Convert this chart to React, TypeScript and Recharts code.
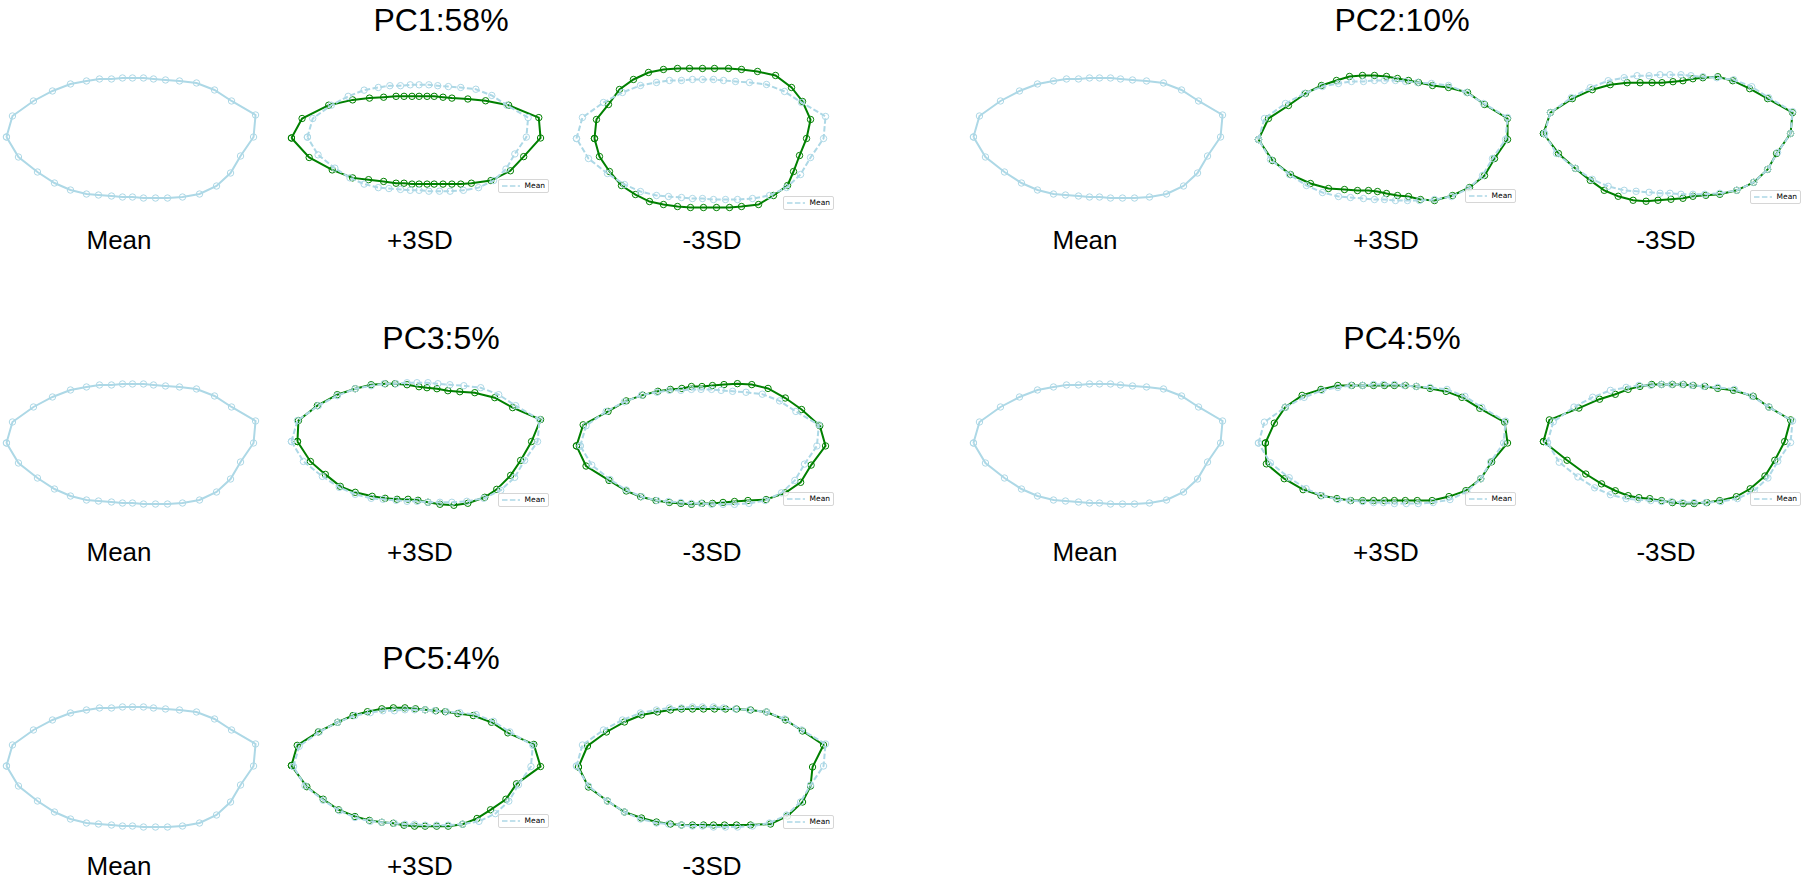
import React from 'react';
import { ScatterChart, Scatter, XAxis, YAxis } from 'recharts';

type Pt = [number, number];

// outline landmarks (x, y), same units for every shape
const MEAN_SHAPE: Pt[] = [
  [-124, 1], [-118, 22], [-97, 37], [-78, 47], [-60, 54], [-44, 57], [-31, 59], [-19, 59], [-8, 60], [2, 60],
  [13, 60], [23, 59], [35, 58], [49, 57], [66, 55], [84, 48], [101, 37], [125, 23], [123, 1], [110, -18],
  [100, -35], [86, -48], [69, -56], [52, -59], [37, -60], [25, -60], [13, -60], [2, -59], [-8, -59], [-19, -58],
  [-32, -57], [-44, -56], [-60, -52], [-76, -45], [-93, -34], [-112, -19],
];

const PC1_PLUS: Pt[] = [
  [-142, 0], [-130, 22], [-100, 37], [-73, 43], [-54, 45], [-38, 46], [-24, 47], [-15, 47], [-6, 47], [2, 47],
  [11, 47], [19, 47], [29, 46], [39, 45], [57, 44], [77, 42], [103, 37], [137, 23], [139, 0], [120, -21],
  [105, -37], [83, -48], [61, -51], [49, -52], [39, -52], [29, -52], [19, -52], [11, -52], [2, -52], [-6, -52],
  [-15, -51], [-24, -51], [-38, -49], [-55, -47], [-73, -45], [-96, -36], [-122, -22],
];
const PC1_MINUS: Pt[] = [
  [-106, 1], [-104, 20], [-92, 35], [-81, 50], [-67, 60], [-52, 67], [-37, 70], [-23, 71], [-11, 71], [2, 71],
  [14, 71], [28, 71], [41, 70], [57, 68], [75, 64], [91, 52], [102, 38], [110, 20], [106, 1], [99, -16],
  [93, -32], [87, -46], [73, -56], [58, -65], [41, -67], [29, -68], [16, -68], [3, -68], [-10, -68], [-23, -67],
  [-37, -65], [-51, -62], [-65, -55], [-79, -46], [-91, -32], [-101, -17],
];
const PC2_PLUS: Pt[] = [
  [-124, 1], [-114, 22], [-94, 35], [-77, 47], [-61, 55], [-46, 60], [-33, 64], [-20, 65], [-8, 65], [4, 64],
  [15, 62], [26, 60], [36, 58], [50, 55], [66, 53], [85, 48], [102, 36], [125, 22], [125, 1], [112, -18],
  [102, -35], [87, -47], [70, -55], [52, -60], [38, -59], [26, -56], [15, -55], [4, -53], [-5, -51], [-14, -50],
  [-25, -50], [-38, -49], [-54, -48], [-72, -43], [-92, -34], [-110, -20],
];
const PC2_MINUS: Pt[] = [
  [-125, 1], [-118, 22], [-96, 36], [-76, 45], [-58, 50], [-41, 52], [-28, 52], [-16, 52], [-6, 52], [5, 53],
  [15, 54], [25, 56], [35, 57], [50, 58], [65, 54], [82, 46], [100, 36], [125, 22], [123, 1], [109, -19],
  [100, -35], [86, -48], [69, -56], [52, -60], [38, -61], [25, -62], [15, -64], [3, -65], [-10, -66], [-22, -67],
  [-35, -66], [-50, -62], [-64, -56], [-78, -46], [-93, -34], [-110, -19],
];
const PC3_PLUS: Pt[] = [
  [-118, 1], [-117, 22], [-98, 37], [-78, 48], [-60, 54], [-44, 58], [-30, 59], [-20, 59], [-8, 58], [4, 56],
  [12, 55], [22, 54], [33, 52], [45, 51], [60, 50], [80, 45], [98, 35], [126, 23], [117, 1], [106, -18],
  [96, -33], [82, -47], [70, -55], [53, -61], [39, -63], [25, -62], [13, -60], [3, -58], [-7, -57], [-18, -57],
  [-30, -56], [-43, -54], [-60, -50], [-75, -44], [-90, -32], [-105, -19],
];
const PC3_MINUS: Pt[] = [
  [-128, 1], [-121, 23], [-95, 37], [-76, 48], [-59, 54], [-43, 58], [-30, 60], [-18, 61], [-8, 63], [3, 63],
  [14, 64], [26, 65], [40, 66], [55, 65], [72, 61], [90, 51], [107, 39], [126, 22], [132, 1], [117, -19],
  [106, -37], [90, -48], [70, -55], [51, -56], [37, -57], [25, -58], [14, -59], [3, -59], [-8, -60], [-19, -59],
  [-31, -58], [-45, -56], [-61, -52], [-76, -46], [-94, -35], [-118, -20],
];
const PC4_PLUS: Pt[] = [
  [-117, 1], [-108, 21], [-97, 37], [-80, 49], [-61, 55], [-44, 59], [-30, 59], [-19, 59], [-8, 59], [3, 59],
  [13, 59], [24, 59], [35, 58], [49, 56], [65, 53], [81, 47], [99, 36], [124, 22], [127, 1], [111, -18],
  [100, -35], [85, -47], [68, -53], [51, -57], [36, -57], [24, -57], [13, -57], [3, -57], [-8, -57], [-19, -57],
  [-31, -57], [-45, -55], [-61, -52], [-79, -46], [-98, -35], [-116, -20],
];
const PC4_MINUS: Pt[] = [
  [-128, 2], [-122, 24], [-92, 36], [-71, 45], [-55, 50], [-42, 55], [-30, 58], [-18, 60], [-8, 60], [3, 60],
  [14, 60], [24, 59], [36, 58], [49, 56], [65, 54], [85, 48], [101, 37], [123, 24], [117, 2], [107, -17],
  [97, -33], [82, -46], [68, -54], [51, -58], [38, -60], [25, -61], [14, -61], [3, -60], [-8, -58], [-20, -56],
  [-31, -55], [-42, -53], [-55, -48], [-69, -41], [-85, -31], [-104, -17],
];
const PC5_PLUS: Pt[] = [
  [-126, 2], [-120, 23], [-98, 37], [-78, 47], [-62, 54], [-47, 58], [-32, 61], [-20, 62], [-8, 62], [3, 61],
  [13, 60], [24, 59], [34, 58], [47, 56], [63, 54], [82, 47], [99, 36], [126, 24], [133, 1], [108, -17],
  [97, -33], [81, -44], [67, -53], [52, -59], [37, -61], [25, -61], [13, -61], [2, -61], [-9, -60], [-20, -58],
  [-32, -57], [-45, -55], [-60, -51], [-77, -44], [-93, -33], [-110, -20],
];
const PC5_MINUS: Pt[] = [
  [-122, 0], [-113, 21], [-94, 35], [-76, 45], [-59, 52], [-43, 55], [-30, 57], [-19, 58], [-8, 58], [3, 58],
  [14, 58], [25, 58], [36, 58], [50, 57], [66, 55], [85, 47], [102, 36], [123, 22], [112, 0], [110, -19],
  [102, -35], [87, -49], [70, -57], [50, -58], [36, -58], [24, -58], [13, -58], [3, -58], [-8, -58], [-19, -58],
  [-30, -57], [-44, -55], [-59, -51], [-76, -45], [-93, -34], [-112, -20],
];

const PC_TITLES = ['PC1:58%', 'PC2:10%', 'PC3:5%', 'PC4:5%', 'PC5:4%'];
const COLUMN_LABELS = ['Mean', '+3SD', '-3SD'];
const PLUS_SHAPES = [PC1_PLUS, PC2_PLUS, PC3_PLUS, PC4_PLUS, PC5_PLUS];
const MINUS_SHAPES = [PC1_MINUS, PC2_MINUS, PC3_MINUS, PC4_MINUS, PC5_MINUS];

const FONT = '"Liberation Sans", Arial, sans-serif';
const MEAN_COLOR = '#add8e6';
const SD_COLOR = '#008000';
const DASH = '5.5 2.4';

// one subplot box, equal aspect
const PW = 274;
const PH = 200;

// page layout of the five blocks
const LEFT = { cols: [131, 416, 701], labelX: [119, 420, 712], titleX: 441 };
const RIGHT = { cols: [1098, 1383, 1668], labelX: [1085, 1386, 1666], titleX: 1402 };
const BLOCKS = [
  { g: LEFT, cy: 138, titleY: 20, labelY: 240 },
  { g: RIGHT, cy: 138, titleY: 20, labelY: 240 },
  { g: LEFT, cy: 444, titleY: 338, labelY: 552 },
  { g: RIGHT, cy: 444, titleY: 338, labelY: 552 },
  { g: LEFT, cy: 767, titleY: 658, labelY: 866 },
];

interface Layer {
  pts: Pt[];
  color: string;
  dashed?: boolean;
}

const MeanLegend = () => (
  <div
    style={{
      display: 'flex',
      alignItems: 'center',
      border: '1px solid #d6d6d6',
      borderRadius: 2,
      background: 'rgba(255,255,255,0.85)',
      padding: '1px 3px',
      fontFamily: '"DejaVu Sans", sans-serif',
      fontSize: 7.5,
      lineHeight: '10px',
      color: '#000',
      whiteSpace: 'nowrap',
    }}
  >
    <svg width={18} height={6}>
      <line x1={0} y1={3} x2={18} y2={3} stroke={MEAN_COLOR} strokeWidth={1.5} strokeDasharray={DASH} />
    </svg>
    <span style={{ marginLeft: 5 }}>Mean</span>
  </div>
);

const Panel = ({ layers, cx, cy, legend }: { layers: Layer[]; cx: number; cy: number; legend?: boolean }) => {
  const all = layers.flatMap((l) => l.pts);
  const xs = all.map((p) => p[0]);
  const ys = all.map((p) => p[1]);
  const x0 = Math.min(...xs);
  const x1 = Math.max(...xs);
  const y0 = Math.min(...ys);
  const y1 = Math.max(...ys);
  const bw = (x1 - x0) * 1.1;
  const bh = (y1 - y0) * 1.1;
  const s = Math.min(PW / bw, PH / bh);
  const mx = (x0 + x1) / 2;
  const my = (y0 + y1) / 2;
  const hx = PW / 2 / s;
  const hy = PH / 2 / s;
  const axRight = PW / 2 + (bw * s) / 2;
  const axBottom = PH / 2 + (bh * s) / 2;

  return (
    <div style={{ position: 'absolute', left: cx - PW / 2, top: cy - PH / 2, width: PW, height: PH }}>
      <ScatterChart width={PW} height={PH} margin={{ top: 0, right: 0, bottom: 0, left: 0 }}>
        <XAxis type="number" dataKey="x" domain={[mx - hx, mx + hx]} hide allowDataOverflow />
        <YAxis type="number" dataKey="y" domain={[my - hy, my + hy]} hide allowDataOverflow />
        {layers.map((l, i) => (
          <Scatter
            key={i}
            data={[...l.pts, l.pts[0]].map(([x, y]) => ({ x, y }))}
            isAnimationActive={false}
            fill={l.color}
            line={{ stroke: l.color, strokeWidth: 2, strokeDasharray: l.dashed ? DASH : undefined }}
            shape={(p: any) => (
              <circle cx={p.cx} cy={p.cy} r={3.2} fill="none" stroke={l.color} strokeWidth={1} />
            )}
          />
        ))}
      </ScatterChart>
      {legend && (
        <div style={{ position: 'absolute', right: PW - axRight + 4, bottom: PH - axBottom + 4 }}>
          <MeanLegend />
        </div>
      )}
    </div>
  );
};

const textStyle = (x: number, y: number, size: number): React.CSSProperties => ({
  position: 'absolute',
  left: x,
  top: y,
  transform: 'translate(-50%, -50%)',
  fontFamily: FONT,
  fontSize: size,
  lineHeight: 1,
  whiteSpace: 'nowrap',
  color: '#000',
});

export default function App() {
  return (
    <div style={{ position: 'absolute', left: 0, top: 0, width: 1806, height: 884, background: '#fff', overflow: 'hidden' }}>
      {BLOCKS.map((b, k) => (
        <React.Fragment key={k}>
          <div style={textStyle(b.g.titleX, b.titleY, 32)}>{PC_TITLES[k]}</div>
          <Panel layers={[{ pts: MEAN_SHAPE, color: MEAN_COLOR }]} cx={b.g.cols[0]} cy={b.cy} />
          <Panel
            layers={[
              { pts: PLUS_SHAPES[k], color: SD_COLOR },
              { pts: MEAN_SHAPE, color: MEAN_COLOR, dashed: true },
            ]}
            cx={b.g.cols[1]}
            cy={b.cy}
            legend
          />
          <Panel
            layers={[
              { pts: MINUS_SHAPES[k], color: SD_COLOR },
              { pts: MEAN_SHAPE, color: MEAN_COLOR, dashed: true },
            ]}
            cx={b.g.cols[2]}
            cy={b.cy}
            legend
          />
          {COLUMN_LABELS.map((t, j) => (
            <div key={t} style={textStyle(b.g.labelX[j], b.labelY, 26)}>
              {t}
            </div>
          ))}
        </React.Fragment>
      ))}
    </div>
  );
}
